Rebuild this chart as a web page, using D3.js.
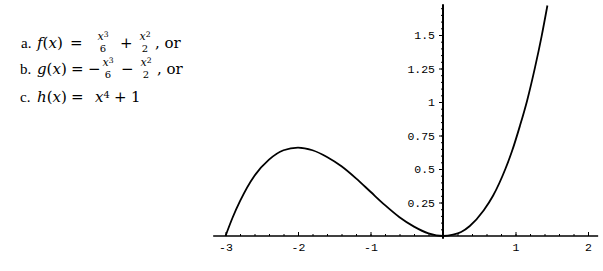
<!DOCTYPE html>
<html lang="en">
<head>
    <meta charset="UTF-8">
    <title>f(x) plot</title>
    <script src="https://cdn.jsdelivr.net/npm/d3@7"></script>
    <style>
        body { margin: 0; background: #fff; }
        .tick text { font-family: "Liberation Mono", monospace; font-size: 11.5px; fill: #000; }
        .math { font-family: "DejaVu Serif", serif; fill: #000; }
        .lbl { font-family: "Liberation Serif", serif; fill: #000; }
    </style>
</head>
<body>
<script type="text/javascript">
    // points
    var curveX = [-3.00, -2.90, -2.80, -2.60, -2.40, -2.20, -2.00, -1.80, -1.60, -1.40, -1.20, -1.00,
                  -0.80, -0.60, -0.40, -0.20, 0.00, 0.14, 0.25, 0.37, 0.56, 0.69, 0.86, 0.95, 1.06,
                  1.16, 1.27, 1.36, 1.44];
    var curveY = [0.00, 0.14, 0.26, 0.45, 0.57, 0.64, 0.66, 0.64, 0.59, 0.52, 0.43, 0.33,
                  0.23, 0.14, 0.07, 0.02, 0.00, 0.01, 0.03, 0.075, 0.19, 0.30, 0.50, 0.63, 0.82,
                  1.01, 1.26, 1.49, 1.72];
    var xTicks = [-3, -2, -1, 1, 2];
    var yTicks = [0.25, 0.5, 0.75, 1, 1.25, 1.5];
    var xLabels = ['-3', '-2', '-1', '1', '2'];
    var yLabels = ['0.25', '0.5', '0.75', '1', '1.25', '1.5'];

    var width = 603;
    var height = 271;
    var svg = d3.select('body').append('svg')
            .attr('width', width)
            .attr('height', height);

    var x = d3.scaleLinear().domain([-3, 2]).range([225.5, 588]);
    var y = d3.scaleLinear().domain([0, 1.5]).range([236, 35]);

    // axes lines
    svg.append('line')
            .attr('x1', x(-3.17)).attr('x2', x(2.14))
            .attr('y1', y(0)).attr('y2', y(0))
            .attr('stroke', 'black').attr('stroke-width', 1.4);
    svg.append('line')
            .attr('x1', x(0)).attr('x2', x(0))
            .attr('y1', y(1.73)).attr('y2', y(-0.02))
            .attr('stroke', 'black').attr('stroke-width', 2);

    // minor ticks
    var xMinor = d3.range(-3, 2.01, 0.2).map(function (d) { return Math.round(d * 10) / 10; });
    var yMinor = d3.range(0.05, 1.72, 0.05);
    svg.append('g')
            .attr('transform', 'translate(0,' + y(0) + ')')
            .call(d3.axisBottom(x).tickValues(xMinor).tickSize(-2).tickSizeOuter(0).tickFormat(''))
            .call(function (g) { g.select('.domain').remove(); });
    svg.append('g')
            .attr('transform', 'translate(' + x(0) + ',0)')
            .call(d3.axisLeft(y).tickValues(yMinor).tickSize(2).tickSizeOuter(0).tickFormat(''))
            .call(function (g) { g.select('.domain').remove(); });

    // major ticks
    svg.append('g')
            .attr('transform', 'translate(0,' + y(0) + ')')
            .call(d3.axisBottom(x).tickValues(xTicks).tickSize(-4).tickSizeOuter(0).tickPadding(7)
                    .tickFormat(function (d, i) { return xLabels[i]; }))
            .call(function (g) { g.select('.domain').remove(); });
    svg.append('g')
            .attr('transform', 'translate(' + x(0) + ',0)')
            .call(d3.axisLeft(y).tickValues(yTicks).tickSize(4).tickSizeOuter(0).tickPadding(4)
                    .tickFormat(function (d, i) { return yLabels[i]; }))
            .call(function (g) { g.select('.domain').remove(); });
    svg.selectAll('.tick line').attr('stroke', 'black').attr('stroke-width', 1);

    // curve
    var pts = curveX.map(function (d, i) { return [d, curveY[i]]; });
    var line = d3.line()
            .x(function (d) { return x(d[0]); })
            .y(function (d) { return y(d[1]); })
            .curve(d3.curveMonotoneX);
    svg.append('path')
            .attr('d', line(pts))
            .attr('fill', 'none')
            .attr('stroke', 'black')
            .attr('stroke-width', 1.8);

    // formulas
    var math = svg.append('g').attr('class', 'math');
    function put(px, py, parts, size, cls) {
        var t = math.append('text').attr('x', px).attr('y', py).attr('font-size', size || 15);
        if (cls) t.attr('class', cls);
        parts.forEach(function (p) {
            t.append('tspan')
                    .attr('font-style', p[1] ? 'italic' : 'normal')
                    .attr('baseline-shift', p[2] ? '40%' : null)
                    .attr('font-size', p[2] ? '65%' : null)
                    .text(p[0]);
        });
        return t;
    }
    function frac(cx, base, num, numSup, den) {
        var t = math.append('text').attr('x', cx).attr('y', base - 8).attr('font-size', 11)
                .attr('text-anchor', 'middle');
        t.append('tspan').attr('font-style', 'italic').text(num);
        t.append('tspan').attr('baseline-shift', '40%').attr('font-size', '70%').text(numSup);
        math.append('text').attr('x', cx).attr('y', base + 4).attr('font-size', 10)
                .attr('text-anchor', 'middle').text(den);
    }
    // a.
    put(21, 48, [['a.']], 15, 'lbl');
    put(37, 48, [['f', 1], ['('], ['x', 1], [')']]);
    put(70, 48, [['=']]);
    frac(103, 48, 'x', '3', '6');
    put(120, 48, [['+']]);
    frac(145, 48, 'x', '2', '2');
    put(155, 48, [[', or']]);
    // b.
    put(20, 74, [['b.']], 15, 'lbl');
    put(37, 74, [['g', 1], ['('], ['x', 1], [')']]);
    put(71, 74, [['=']]);
    put(88, 74, [['\u2212']]);
    frac(108, 74, 'x', '3', '6');
    put(121, 74, [['\u2212']]);
    frac(146, 74, 'x', '2', '2');
    put(157, 74, [[', or']]);
    // c.
    put(20, 102, [['c.']], 15, 'lbl');
    put(37, 102, [['h', 1], ['('], ['x', 1], [')']]);
    put(71, 102, [['=']]);
    put(95, 102, [['x', 1], ['4', 0, 1]]);
    put(114, 102, [['+']]);
    put(131, 102, [['1']]);
</script>
</body>
</html>
